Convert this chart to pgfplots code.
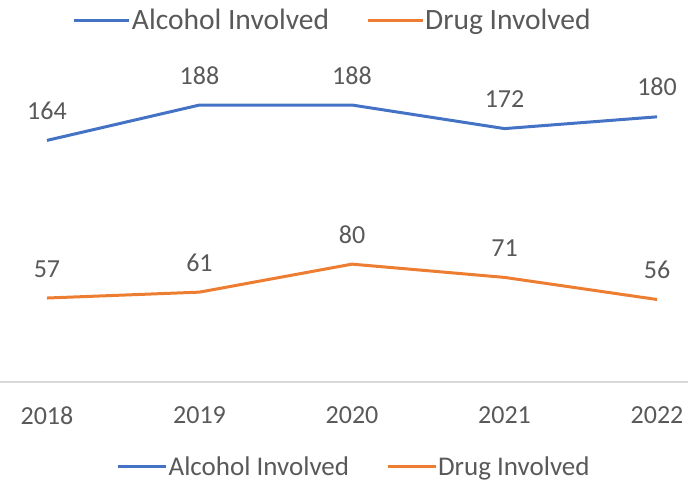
\documentclass[border=0pt]{standalone}
\usepackage{fontspec}
\setmainfont{Carlito}
\usepackage{pgfplots}
\pgfplotsset{compat=1.18}
\definecolor{cblue}{HTML}{4472C4}
\definecolor{corange}{HTML}{ED7D31}
\definecolor{ctext}{HTML}{595959}
\definecolor{caxis}{HTML}{D9D9D9}
\begin{document}
\begin{tikzpicture}
\pgfplotsset{
  common/.style={
    scale only axis, width=688bp, height=382bp,
    xmin=-0.308, xmax=4.203, ymin=0, ymax=259.3,
    at={(0,0)}, anchor=south west, clip=false,
  }
}
\begin{axis}[common,
  /pgf/number format/assume math mode=true,
  axis y line=none,
  axis x line*=bottom,
  x axis line style={draw=caxis, line width=1.2bp, -},
  xtick={0,1,2,3,4},
  xticklabels={2018,2019,2020,2021,2022},
  xtick style={draw=none},
  ytick=\empty,
  xticklabel style={font=\fontsize{26bp}{30bp}\selectfont, text=ctext, yshift=-21bp},
  nodes near coords,
  every node near coord/.append style={font=\fontsize{26bp}{30bp}\selectfont, text=ctext, anchor=south, yshift=16bp},
  legend columns=2,
  legend cell align=left,
  legend style={at={(axis description cs:0.514,-0.2225)}, anchor=center, draw=none, fill=none,
    inner sep=0pt, nodes={inner sep=1bp, text=ctext},
    font=\fontsize{27bp}{31bp}\selectfont,
    /tikz/every even column/.append style={column sep=36bp}},
  legend image code/.code={\draw[#1] (0bp,0bp) -- (48bp,0bp);},
]
\addplot[cblue, line width=3bp, mark=none] coordinates {(0,164) (1,188) (2,188) (3,172) (4,180)};
\addlegendentry{Alcohol Involved}
\addplot[corange, line width=3bp, mark=none] coordinates {(0,57) (1,61) (2,80) (3,71) (4,56)};
\addlegendentry{Drug Involved}
\end{axis}
\begin{axis}[common, hide axis,
  legend columns=2,
  legend cell align=left,
  legend style={at={(axis description cs:0.483,0.9476)}, anchor=center, draw=none, fill=none,
    inner sep=0pt, nodes={inner sep=1bp, text=ctext},
    font=\fontsize{29.5bp}{33bp}\selectfont,
    /tikz/every even column/.append style={column sep=36bp}},
  legend image code/.code={\draw[#1] (0bp,0bp) -- (55bp,0bp);},
]
\addlegendimage{cblue, line width=3bp}
\addlegendentry{Alcohol Involved}
\addlegendimage{corange, line width=3bp}
\addlegendentry{Drug Involved}
\end{axis}
\pgfresetboundingbox
\path (0,-100bp) rectangle (688bp,382bp);
\end{tikzpicture}
\end{document}
